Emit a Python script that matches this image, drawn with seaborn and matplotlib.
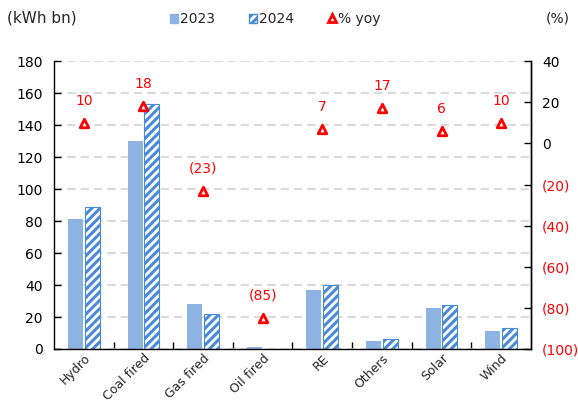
import matplotlib
matplotlib.use("Agg")
import matplotlib.pyplot as plt
from matplotlib.patches import Patch
from matplotlib.lines import Line2D
from matplotlib.ticker import FixedLocator, FuncFormatter
import seaborn as sns
import pandas as pd
import numpy as np

# Power generation by source (kWh bn) and year-on-year change (%)
categories = ["Hydro", "Coal fired", "Gas fired", "Oil fired", "RE", "Others", "Solar", "Wind"]
gen_2023 = [81, 130, 28, 1.3, 37, 5, 25.5, 11.5]
gen_2024 = [89, 153, 22, 0.2, 40, 6, 27.5, 13]
yoy_pct = [10, 18, -23, -85, 7, 17, 6, 10]

c2023 = "#8DB3E2"
c2024 = "#4A8BD8"
red = "#FF0000"

sns.set_theme(style="white")
plt.rcParams["font.family"] = ["DejaVu Sans"]
plt.rcParams["hatch.linewidth"] = 2.2

df = pd.DataFrame({
    "source": categories * 2,
    "year": ["2023"] * len(categories) + ["2024"] * len(categories),
    "value": gen_2023 + gen_2024,
})

fig = plt.figure(figsize=(5.78, 4.05), dpi=100)
ax = fig.add_axes([0.0934, 0.1383, 0.8253, 0.7107])

sns.barplot(data=df, x="source", y="value", hue="year", order=categories,
            hue_order=["2023", "2024"], palette=[c2023, c2024],
            width=0.56, gap=0.1, errorbar=None, legend=False, ax=ax,
            saturation=1)

# 2024 bars: white with blue diagonal hatching
n = len(categories)
for i, bar in enumerate(ax.patches):
    if i >= n:
        bar.set_facecolor("white")
        bar.set_edgecolor(c2024)
        bar.set_hatch("////")
        bar.set_linewidth(0.8)
    else:
        bar.set_edgecolor(c2023)
        bar.set_linewidth(0)

ax.set_ylim(0, 180)
ax.set_xlim(-0.5, n - 0.5)
ax.set_yticks(np.arange(0, 181, 20))
ax.yaxis.grid(True, color="#D4D4D4", linestyle=(0, (5, 3)), linewidth=1.2)
ax.set_axisbelow(True)
ax.set_xlabel("")
ax.set_ylabel("")
ax.tick_params(axis="y", direction="in", length=5, width=1, color="black",
               labelsize=10, left=True, pad=8, labelcolor="black")
ax.set_xticks(range(n))
ax.set_xticklabels(categories, rotation=45, ha="right", rotation_mode="anchor")
ax.tick_params(axis="x", which="major", length=0, labelsize=9, pad=2)
ax.xaxis.set_minor_locator(FixedLocator(np.arange(0.5, n - 0.5, 1)))
ax.tick_params(axis="x", which="minor", direction="in", length=5, width=1,
               color="black", bottom=True)
for s in ["left", "bottom", "right"]:
    ax.spines[s].set_visible(True)
    ax.spines[s].set_color("black")
    ax.spines[s].set_linewidth(1)
ax.spines["top"].set_visible(False)

# Year-on-year change on the secondary axis
ax2 = ax.twinx()
yoy_df = pd.DataFrame({"source": categories, "yoy": yoy_pct})
sns.scatterplot(data=yoy_df, x="source", y="yoy", marker="^", s=38,
                facecolor="white", edgecolor=red, linewidth=2, ax=ax2, zorder=5)
ax2.set_xlim(-0.5, n - 0.5)
ax2.set_ylim(-100, 40)
ax2.set_yticks(np.arange(-100, 41, 20))
ax2.set_ylabel("")


def pct_fmt(v, _pos=None):
    v = int(round(v))
    return f"({abs(v)})" if v < 0 else f"{v}"


ax2.yaxis.set_major_formatter(FuncFormatter(pct_fmt))
ax2.tick_params(axis="y", direction="in", length=5, width=1, color="black",
                labelsize=10, pad=8)
for lbl, v in zip(ax2.get_yticklabels(), np.arange(-100, 41, 20)):
    lbl.set_color(red if v < 0 else "black")
ax2.spines["top"].set_visible(False)
ax2.spines["right"].set_color("black")
ax2.spines["right"].set_linewidth(1)
for s in ["left", "bottom"]:
    ax2.spines[s].set_visible(False)

for i, v in enumerate(yoy_pct):
    ax2.annotate(pct_fmt(v), (i, v), xytext=(0, 11), textcoords="offset points",
                 ha="center", va="bottom", color=red, fontsize=10)

# Header texts and legend
fig.text(0.012, 0.955, "(kWh bn)", fontsize=11, ha="left", va="center")
fig.text(0.985, 0.955, "(%)", fontsize=10, ha="right", va="center")
handles = [
    Patch(facecolor=c2023, edgecolor=c2023, label="2023"),
    Patch(facecolor="white", edgecolor=c2024, hatch="////", label="2024"),
    Line2D([], [], marker="^", linestyle="none", markersize=6,
           markerfacecolor="white", markeredgecolor=red, markeredgewidth=2,
           label="% yoy"),
]
fig.legend(handles=handles, loc="center", bbox_to_anchor=(0.476, 0.953), ncol=3,
           frameon=False, fontsize=10, handlelength=0.6, handleheight=0.6,
           handletextpad=0.15, columnspacing=2.4)

fig.savefig("out.png", dpi=100)
